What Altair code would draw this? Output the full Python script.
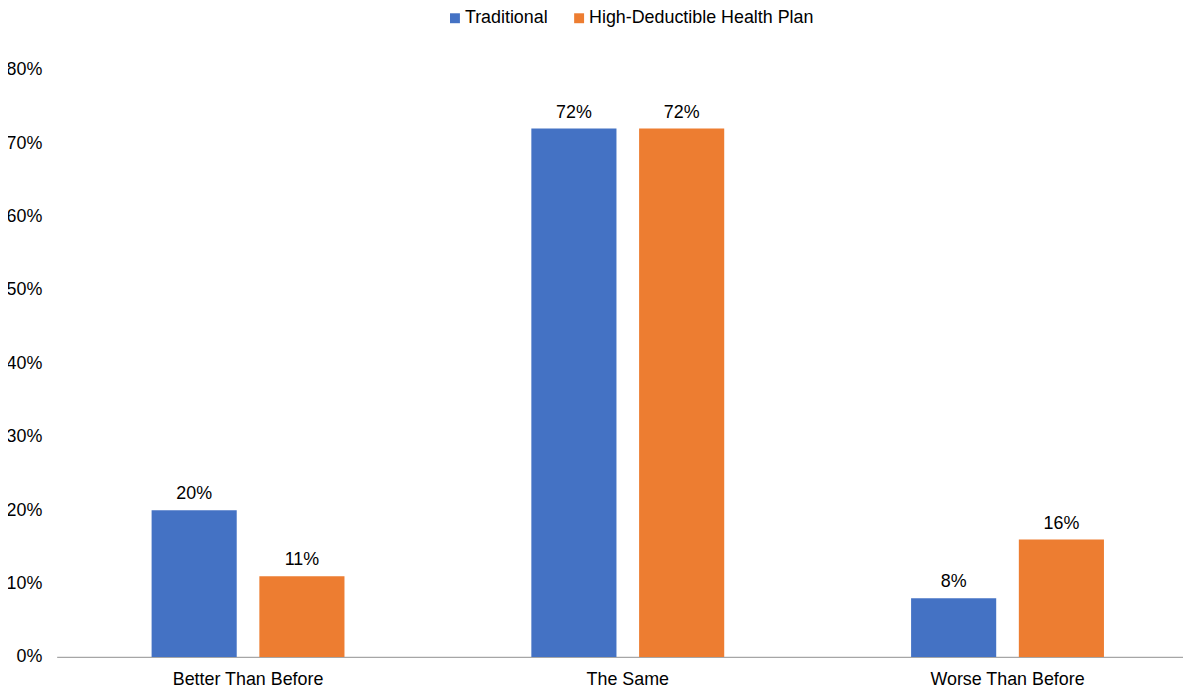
import altair as alt
import pandas as pd

categories = ["Better Than Before", "The Same", "Worse Than Before"]
series = ["Traditional", "High-Deductible Health Plan"]
traditional = [20, 72, 8]
hdhp = [11, 72, 16]
y_ticks = [0, 10, 20, 30, 40, 50, 60, 70, 80]
colors = ["#4472C4", "#ED7D31"]

rows = []
for i, c in enumerate(categories):
    rows.append({"category": c, "plan": series[0], "value": traditional[i]})
    rows.append({"category": c, "plan": series[1], "value": hdhp[i]})
df = pd.DataFrame(rows)

FONT = "Liberation Sans"
FS = 18

x = alt.X(
    "category:N",
    sort=categories,
    scale=alt.Scale(paddingInner=0.4921, paddingOuter=0.25),
    axis=alt.Axis(
        title=None, labelAngle=0, ticks=False, domainColor="#A6A6A6",
        domainWidth=1.3, labelPadding=14, labelFontSize=FS, labelColor="black",
        labelFont=FONT, grid=False,
    ),
)
xoff = alt.XOffset("plan:N", sort=series,
                   scale=alt.Scale(paddingInner=0.21, paddingOuter=0))
y = alt.Y(
    "value:Q",
    scale=alt.Scale(domain=[0, 80]),
    axis=alt.Axis(
        values=y_ticks, title=None, domain=False, ticks=False, grid=False,
        labelPadding=15, labelFontSize=FS, labelColor="black", labelFont=FONT,
        labelExpr="datum.value + '%'",
    ),
)
color = alt.Color(
    "plan:N",
    sort=series,
    scale=alt.Scale(domain=series, range=colors),
    legend=alt.Legend(
        title=None, orient="none", direction="horizontal",
        legendX=392, legendY=-61, symbolType="square", symbolSize=100,
        symbolStrokeWidth=0, labelFontSize=FS, labelFont=FONT, labelColor="black",
        columnPadding=22, labelOffset=1, padding=0, labelLimit=0,
    ),
)

base = alt.Chart(df).encode(x=x, xOffset=xoff, y=y)
bars = base.mark_bar().encode(color=color)
labels = base.transform_calculate(
    label="datum.value + '%'"
).mark_text(baseline="alphabetic", dy=-11, fontSize=FS, font=FONT, color="black").encode(
    text="label:N"
)

chart = (
    alt.layer(bars, labels)
    .properties(
        width=1150, height=591,
        autosize=alt.AutoSizeParams(type="none"),
        padding={"left": 49, "top": 60, "right": -16, "bottom": 29},
    )
    .configure_view(stroke=None)
)

chart.save("out.html", embed_options={"renderer": "svg", "actions": False})
